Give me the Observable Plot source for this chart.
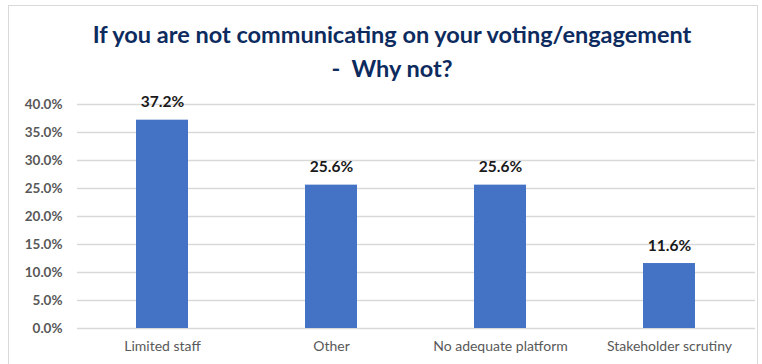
<!DOCTYPE html>
<html>
<head>
<meta charset="utf-8">
<script src="https://cdn.jsdelivr.net/npm/d3@7"></script>
<script src="https://cdn.jsdelivr.net/npm/@observablehq/plot@0.6"></script>
<style>
  html, body { margin: 0; padding: 0; background: #fff; }
  #frame { position: absolute; left: 8px; top: 5px; width: 750px; height: 380px; border: 1px solid #d9d9d9; box-sizing: border-box; }
  #wrap { position: absolute; left: 0; top: 0; width: 762px; }
  #title { height: 88px; box-sizing: border-box; padding-top: 17px; padding-left: 22px; text-align: center; font-family: Lato, sans-serif; font-weight: bold; font-size: 23.5px; line-height: 34px; color: #0d2b5e; }
</style>
</head>
<body>
<div id="frame"></div>
<div id="wrap">
  <div id="title">If you are not communicating on your voting/engagement<br>-&nbsp; Why not?</div>
  <div id="chart"></div>
</div>
<script>
const categories = ["Limited staff", "Other", "No adequate platform", "Stakeholder scrutiny"];
const values = [37.2, 25.6, 25.6, 11.6];
const yTicks = [0, 5, 10, 15, 20, 25, 30, 35, 40];

const data = categories.map((c, i) => ({category: c, value: values[i]}));

const chart = Plot.plot({
  width: 762,
  height: 276,
  marginTop: 16,
  marginBottom: 36,
  marginLeft: 77,
  marginRight: 7,
  style: {fontFamily: "Lato, sans-serif", background: "transparent"},
  x: {domain: categories, paddingInner: 0.69, paddingOuter: 0.345, label: null, tickSize: 0},
  y: {domain: [0, 40], ticks: yTicks, label: null, tickSize: 0},
  marks: [
    Plot.gridY(yTicks, {stroke: "#d9d9d9", strokeOpacity: 1, strokeWidth: 1.3}),
    Plot.barY(data, {x: "category", y: "value", fill: "#4472C4"}),
    Plot.axisY({ticks: yTicks, tickSize: 0, tickPadding: 15, tickFormat: d => d.toFixed(1) + "%", fontSize: 13.5, fontWeight: "bold", fill: "#595959", label: null}),
    Plot.axisX({tickSize: 0, tickPadding: 13, fontSize: 14, fill: "#595959", label: null}),
    Plot.text(data, {x: "category", y: "value", text: d => d.value.toFixed(1) + "%", dy: -18, fontSize: 15.5, fontWeight: "bold", fill: "#1a1a1a"})
  ]
});
document.getElementById("chart").appendChild(chart);
</script>
</body>
</html>
